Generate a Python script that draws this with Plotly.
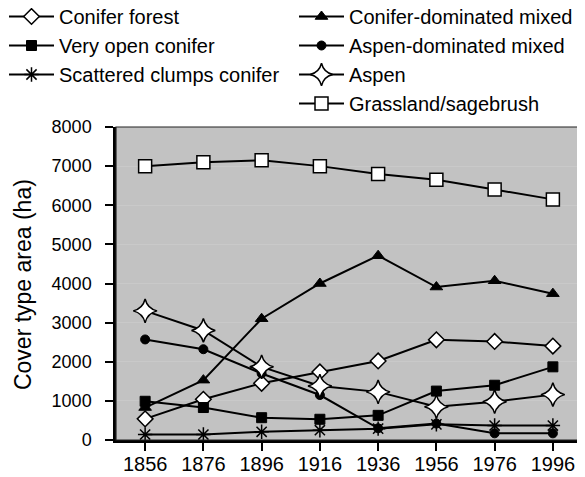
import plotly.graph_objects as go

years = ["1856", "1876", "1896", "1916", "1936", "1956", "1976", "1996"]
conifer_forest = [540, 1040, 1450, 1740, 2020, 2560, 2520, 2400]
very_open_conifer = [990, 830, 570, 530, 630, 1250, 1400, 1870]
scattered_clumps = [140, 140, 210, 250, 290, 400, 370, 370]
conifer_dom_mixed = [830, 1530, 3100, 4000, 4710, 3910, 4070, 3740]
aspen_dom_mixed = [2570, 2320, 1700, 1150, 300, 420, 170, 170]
aspen = [3300, 2800, 1870, 1380, 1230, 850, 980, 1160]
grassland = [7000, 7100, 7150, 7000, 6800, 6650, 6400, 6150]
y_ticks = [0, 1000, 2000, 3000, 4000, 5000, 6000, 7000, 8000]

LINE = dict(color="black", width=2)
series = [
    ("Conifer forest", conifer_forest, dict(symbol="diamond", size=12, color="white", line=dict(color="black", width=1.5)), "legend"),
    ("Very open conifer", very_open_conifer, dict(symbol="square", size=10, color="black", line=dict(color="black", width=1)), "legend"),
    ("Scattered clumps conifer", scattered_clumps, dict(symbol="asterisk-open", size=12, color="black", line=dict(color="black", width=1.5)), "legend"),
    ("Conifer-dominated mixed", conifer_dom_mixed, dict(symbol="triangle-up", size=11, color="black", line=dict(color="black", width=1)), "legend2"),
    ("Aspen-dominated mixed", aspen_dom_mixed, dict(symbol="circle", size=9, color="black", line=dict(color="black", width=1)), "legend2"),
    ("Aspen", aspen, dict(symbol="star-diamond", size=17, color="white", line=dict(color="black", width=1.5)), "legend2"),
    ("Grassland/sagebrush", grassland, dict(symbol="square", size=13, color="white", line=dict(color="black", width=1.5)), "legend2"),
]

fig = go.Figure()
for name, vals, marker, leg in series:
    fig.add_trace(go.Scatter(x=years, y=vals, name=name, mode="lines+markers",
                             line=LINE, marker=marker, legend=leg))

W, H = 577, 469
L, R, T, B = 108, 3, 119, 37
PW, PH = W - L - R, H - T - B
leg_y = 1 + (T + 11) / PH
fig.update_layout(
    width=W, height=H,
    margin=dict(l=L, r=R, t=T, b=B, autoexpand=False),
    paper_bgcolor="white",
    plot_bgcolor="#c2c2c2",
    font=dict(family="Liberation Sans, Arial, sans-serif", color="black"),
    showlegend=True,
    legend=dict(xref="paper", yref="paper", x=(-L - 4) / PW, y=leg_y,
                xanchor="left", yanchor="top", bgcolor="rgba(0,0,0,0)",
                font=dict(size=20), itemwidth=45, tracegroupgap=0),
    legend2=dict(xref="paper", yref="paper", x=(286 - L) / PW, y=leg_y,
                 xanchor="left", yanchor="top", bgcolor="rgba(0,0,0,0)",
                 font=dict(size=20), itemwidth=45, tracegroupgap=0),
    shapes=[dict(type="rect", xref="paper", yref="paper", x0=0, y0=0, x1=1, y1=1,
                 line=dict(color="#222222", width=1.2), fillcolor="rgba(0,0,0,0)", layer="above")],
    annotations=[dict(text="Cover type area (ha)", xref="paper", yref="paper",
                      x=(15 - L) / PW, y=0.495, xanchor="center", yanchor="middle",
                      textangle=-90, showarrow=False, font=dict(size=23))],
)
fig.update_xaxes(type="category", range=[-0.5, 7.5], showline=True, linecolor="black", linewidth=2.5,
                 ticks="outside", ticklen=8, tickwidth=2, tickcolor="black",
                 showgrid=False, tickfont=dict(size=20), zeroline=False, ticklabelstandoff=-4)
fig.update_yaxes(range=[0, 8000], tickvals=y_ticks, showline=True, linecolor="black", linewidth=2.5,
                 ticks="outside", ticklen=8, tickwidth=2, tickcolor="black",
                 showgrid=True, gridcolor="#c9c9c9", gridwidth=1, zeroline=False,
                 tickfont=dict(size=18), ticklabelstandoff=10)

fig.write_html("out.html")
